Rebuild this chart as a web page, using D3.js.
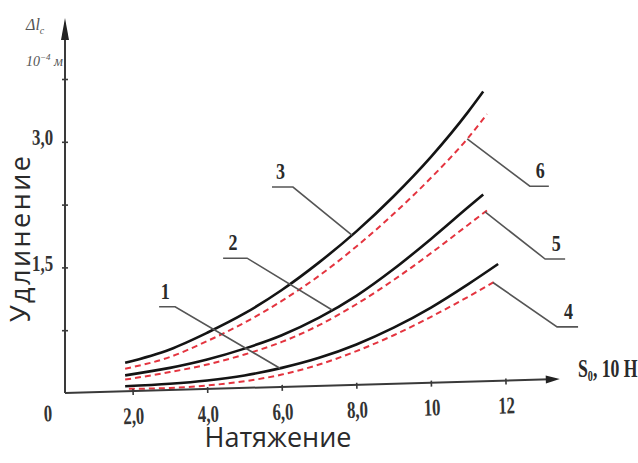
<!DOCTYPE html>
<html><head><meta charset="utf-8">
<script src="https://cdn.jsdelivr.net/npm/d3@7"></script>
<style>body{margin:0;background:#fff} svg{display:block}</style>
</head><body><svg id="c" width="638" height="463"></svg>
<script>
// ---- data ----
const xTicks = [0, 2, 4, 6, 8, 10, 12];
const xTickLabels = ["0", "2,0", "4,0", "6,0", "8,0", "10", "12"];
const yTicks = [0.75, 1.5, 2.25, 3.0, 3.75];
const yTickLabels = ["", "1,5", "", "3,0", ""];

const xs1 = [1.8, 3, 4, 5, 6, 7, 8, 9, 10, 11, 11.8];
const curve1 = [0.08, 0.11, 0.15, 0.21, 0.30, 0.42, 0.58, 0.78, 1.02, 1.30, 1.54];
const xs2 = [1.8, 3, 4, 5, 6, 7, 8, 9, 10, 11, 11.4];
const curve2 = [0.21, 0.30, 0.40, 0.53, 0.69, 0.90, 1.16, 1.48, 1.84, 2.22, 2.37];
const xs3 = [1.8, 3, 4, 5, 6, 7, 8, 9, 10, 11, 11.4];
const curve3 = [0.36, 0.52, 0.72, 0.95, 1.23, 1.56, 1.93, 2.35, 2.82, 3.36, 3.60];
const xs4 = [1.9, 3, 4, 5, 6, 7, 8, 9, 10, 11, 11.7];
const curve4 = [0.05, 0.06, 0.09, 0.14, 0.22, 0.34, 0.50, 0.69, 0.91, 1.15, 1.33];
const xs5 = [1.8, 3, 4, 5, 6, 7, 8, 9, 10, 11, 11.5];
const curve5 = [0.16, 0.25, 0.34, 0.46, 0.61, 0.81, 1.06, 1.35, 1.67, 2.01, 2.18];
const xs6 = [1.8, 3, 4, 5, 6, 7, 8, 9, 10, 11, 11.5];
const curve6 = [0.29, 0.43, 0.62, 0.84, 1.10, 1.40, 1.75, 2.14, 2.57, 3.05, 3.33];

const seriesNames = ["1", "2", "3", "4", "5", "6"];
const seriesX = [xs1, xs2, xs3, xs4, xs5, xs6];
const seriesY = [curve1, curve2, curve3, curve4, curve5, curve6];

// leader annotations (data units): where leader touches curve, elbow point
const leaderAtX = [5.95, 7.35, 7.88, 11.66, 11.45, 10.97];
const leaderElbow = [[3.14, 1.03], [5.07, 1.61], [6.30, 2.46], [13.38, 0.79], [13.06, 1.60], [12.65, 2.47]];

// ---- layout ----
const svg = d3.select("#c");
const X = d3.scaleLinear().domain([0, 12]).range([58, 505.6]);
const Y = d3.scaleLinear().domain([0, 3.75]).range([393, 79]);
const axisColor = "#3a3a3a";
const serif = "'Liberation Serif','Times New Roman',serif";
const sans = "'Open Sans','Noto Sans',sans-serif";
const corner = [65, 393];

// curves
const line = d3.line().x(d => X(d[0])).y(d => Y(d[1])).curve(d3.curveMonotoneX);
seriesY.forEach((ys, i) => {
  const pts = seriesX[i].map((x, j) => [x, ys[j]]);
  const dashed = i >= 3;
  svg.append("path").datum(pts).attr("d", line)
    .attr("fill", "none")
    .attr("stroke", dashed ? "#e4343f" : "#141414")
    .attr("stroke-width", dashed ? 2 : 2.6)
    .attr("stroke-dasharray", dashed ? "6,4" : null)
    .attr("stroke-linecap", "butt");
});

// leaders & labels
function interp(xs, ys, x) {
  for (let j = 0; j < xs.length - 1; j++) {
    if (x >= xs[j] && x <= xs[j + 1]) {
      const t = (x - xs[j]) / (xs[j + 1] - xs[j]);
      return ys[j] + t * (ys[j + 1] - ys[j]);
    }
  }
  return ys[ys.length - 1];
}
seriesNames.forEach((name, i) => {
  const ax = X(leaderAtX[i]), ay = Y(interp(seriesX[i], seriesY[i], leaderAtX[i]));
  const ex = X(leaderElbow[i][0]), ey = Y(leaderElbow[i][1]);
  const left = i < 3;
  const ulen = [16, 24, 21, 21, 20, 19][i];
  const ux = left ? ex - ulen : ex + ulen;
  svg.append("path")
    .attr("d", `M${ax},${ay}L${ex},${ey}L${ux},${ey}`)
    .attr("fill", "none").attr("stroke", "#555").attr("stroke-width", 1.6);
  const cx = left ? ex - ulen / 2 - 2 : ex + ulen / 2 + 1;
  svg.append("text")
    .attr("transform", `translate(${cx},${ey - 8}) scale(0.75,1)`)
    .attr("text-anchor", "middle")
    .attr("font-family", serif).attr("font-size", 24).attr("font-weight", "bold")
    .attr("fill", "#2a2a2a").text(name);
});

// y axis
const yAx = svg.append("g").attr("transform", `translate(${corner[0]},0)`)
  .call(d3.axisLeft(Y).tickValues(yTicks).tickSize(4).tickFormat((d, i) => yTickLabels[i]));
yAx.select(".domain").remove();
yAx.selectAll(".tick line").attr("x1", 3).attr("x2", -3).attr("stroke", axisColor).attr("stroke-width", 1.6);
yAx.selectAll(".tick text")
  .attr("x", -17).attr("dy", "3px")
  .attr("transform", "scale(0.7,1)")
  .attr("font-family", serif).attr("font-size", 24).attr("font-weight", "bold").attr("fill", "#333");
svg.append("line").attr("x1", corner[0]).attr("y1", corner[1]).attr("x2", corner[0]).attr("y2", 30)
  .attr("stroke", axisColor).attr("stroke-width", 2);
svg.append("path").attr("d", `M${corner[0]},18L${corner[0] - 4},40L${corner[0] + 4},40Z`).attr("fill", "#222");

// x axis (slightly tilted)
const xg = svg.append("g").attr("transform", `translate(0,${corner[1]}) rotate(-1.62,${corner[0]},0)`);
const xAx = xg.append("g")
  .call(d3.axisBottom(X).tickValues(xTicks).tickSize(5).tickFormat((d, i) => xTickLabels[i]));
xAx.select(".domain").remove();
xAx.selectAll(".tick line").attr("y1", -2).attr("y2", 4).attr("stroke", axisColor).attr("stroke-width", 1.6)
  .attr("opacity", d => d === 0 ? 0 : 1);
xAx.selectAll(".tick text")
  .attr("y", d => d === 0 ? 28 : 33).attr("dy", 0)
  .attr("x", d => d === 0 ? -16 : 0)
  .attr("transform", "scale(0.7,1)")
  .attr("font-family", serif).attr("font-size", 24).attr("font-weight", "bold").attr("fill", "#333");
xg.append("line").attr("x1", corner[0]).attr("y1", 0).attr("x2", 550).attr("y2", 0)
  .attr("stroke", axisColor).attr("stroke-width", 2);
xg.append("path").attr("d", "M560,0L546,-4L546,4Z").attr("fill", "#222");

// axis titles
const st = svg.append("text").attr("transform", "translate(578,377) scale(0.68,1)")
  .attr("font-family", serif).attr("font-size", 26).attr("font-weight", "bold").attr("fill", "#2a2a2a");
st.append("tspan").text("S");
st.append("tspan").attr("font-size", 15).attr("dy", 4).text("0");
st.append("tspan").attr("dy", -4).text(", 10 H");

const dl = svg.append("text").attr("x", 26).attr("y", 30)
  .attr("font-family", serif).attr("font-style", "italic").attr("font-size", 16).attr("fill", "#555");
dl.append("tspan").text("Δl");
dl.append("tspan").attr("font-size", 10).attr("dy", 4).text("с");
const un = svg.append("text").attr("x", 26).attr("y", 66)
  .attr("font-family", serif).attr("font-style", "italic").attr("font-size", 14).attr("fill", "#555");
un.append("tspan").text("10");
un.append("tspan").attr("font-size", 9).attr("dy", -6).text("−4");
un.append("tspan").attr("dy", 6).text(" м");

svg.append("text").attr("transform", "translate(30,239) rotate(-90)")
  .attr("text-anchor", "middle").attr("font-family", sans).attr("font-size", 27)
  .attr("textLength", 166).attr("lengthAdjust", "spacing")
  .attr("fill", "#2a2a2a").text("Удлинение");
svg.append("text").attr("x", 278).attr("y", 447)
  .attr("text-anchor", "middle").attr("font-family", sans).attr("font-size", 27)
  .attr("fill", "#2a2a2a").text("Натяжение");
</script></body></html>
